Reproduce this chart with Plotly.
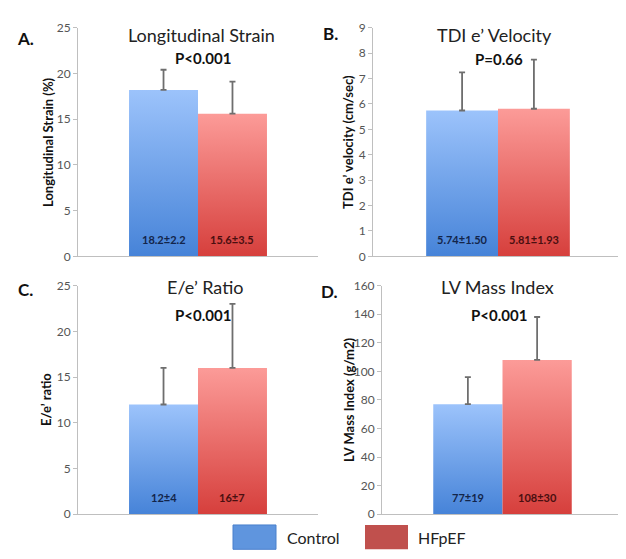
import plotly.graph_objects as go

groups = ["Control", "HFpEF"]
panel_letters = ["A.", "B.", "C.", "D."]
panel_titles = ["Longitudinal Strain", "TDI e\u2019 Velocity", "E/e\u2019 Ratio", "LV Mass Index"]
y_titles = ["Longitudinal Strain (%)", "TDI e\u2019 velocity (cm/sec)", "E/e\u2019 ratio", "LV Mass Index (g/m2)"]
p_values = ["P<0.001", "P=0.66", "P<0.001", "P<0.001"]

strain_mean = [18.2, 15.6]
strain_sd = [2.2, 3.5]
tdi_mean = [5.74, 5.81]
tdi_sd = [1.50, 1.93]
ee_mean = [12, 16]
ee_sd = [4, 7]
lvmi_mean = [77, 108]
lvmi_sd = [19, 30]
value_labels = [["18.2\u00b12.2", "15.6\u00b13.5"], ["5.74\u00b11.50", "5.81\u00b11.93"],
                ["12\u00b14", "16\u00b17"], ["77\u00b119", "108\u00b130"]]

y_max = [25, 9, 25, 160]
y_dtick = [5, 1, 5, 20]

means = [strain_mean, tdi_mean, ee_mean, lvmi_mean]
sds = [strain_sd, tdi_sd, ee_sd, lvmi_sd]

W, H = 626, 559
xdoms = [[70 / W, 310 / W], [365 / W, 615 / W], [70 / W, 310 / W], [374 / W, 615 / W]]
ydoms = [[(H - 247) / H, (H - 12) / H], [(H - 247) / H, (H - 12) / H],
         [(H - 512) / H, (H - 277) / H], [(H - 512) / H, (H - 277) / H]]

grad = [
    [[0, "#4683D8"], [1, "#9CC3FB"]],
    [[0, "#D63F3C"], [1, "#FC9B98"]],
]
label_colors = ["#13254A", "#4A0F10"]
bar_centers = [-0.5, 0.5]
bar_w = 1.0

fig = go.Figure()
layout = dict(width=W, height=H, margin=dict(l=0, r=0, t=0, b=0),
              paper_bgcolor="white", plot_bgcolor="white", showlegend=False,
              font=dict(family="Lato, Open Sans, sans-serif", color="#222"))
annotations = []
title_pos = [(193, 20, 195, 43), (486, 20, 491, 44), (197, 278, 195, 307), (490, 278, 491, 307)]
letter_pos = [(17, 23), (322, 18), (17, 281), (321, 283)]
ytitle_x = [40, 340, 38, 341]

for p in range(4):
    xa = "x" if p == 0 else f"x{p+1}"
    ya = "y" if p == 0 else f"y{p+1}"
    xk = "xaxis" if p == 0 else f"xaxis{p+1}"
    yk = "yaxis" if p == 0 else f"yaxis{p+1}"
    for g in range(2):
        c = bar_centers[g]
        v = means[p][g]
        xs = [c - bar_w / 2, c + bar_w / 2, c + bar_w / 2, c - bar_w / 2, c - bar_w / 2]
        ys = [0, 0, v, v, 0]
        fig.add_trace(go.Scatter(
            x=xs, y=ys, xaxis=xa, yaxis=ya, mode="lines", fill="toself",
            line=dict(width=0), fillgradient=dict(type="vertical", colorscale=grad[g]),
            hoverinfo="skip", name=groups[g]))
        fig.add_trace(go.Scatter(
            x=[c], y=[v], xaxis=xa, yaxis=ya, mode="markers",
            marker=dict(size=1, opacity=0),
            error_y=dict(type="data", symmetric=False, array=[sds[p][g]], arrayminus=[0],
                         color="#6E6E6E", thickness=1.8, width=3),
            name=groups[g]))
        annotations.append(dict(
            x=c, y=17 / 235, xref=xa, yref=f"{ya} domain", text=f"<b>{value_labels[p][g]}</b>",
            showarrow=False, font=dict(size=11, color=label_colors[g]),
            xanchor="center", yanchor="middle"))
    layout[xk] = dict(domain=xdoms[p], range=[-1.74, 1.74], showticklabels=False,
                      showgrid=False, zeroline=False, showline=True, linecolor="#BFBFBF",
                      linewidth=1, ticks="", anchor=ya, fixedrange=True)
    layout[yk] = dict(domain=ydoms[p], range=[0, y_max[p]], dtick=y_dtick[p],
                      showgrid=False, zeroline=False, showline=True, linecolor="#BFBFBF",
                      linewidth=1, ticks="outside", ticklen=4, tickcolor="#BFBFBF",
                      tickfont=dict(size=12, color="#555"), anchor=xa, fixedrange=True)
    tx, ty, px, py = title_pos[p]
    annotations.append(dict(x=tx / W, y=1 - ty / H, xref="paper", yref="paper",
                            text=panel_titles[p], showarrow=False,
                            font=dict(size=18, color="#222"), xanchor="center", yanchor="middle"))
    annotations.append(dict(x=px / W, y=1 - py / H, xref="paper", yref="paper",
                            text=f"<b>{p_values[p]}</b>", showarrow=False,
                            font=dict(size=15, color="#111"), xanchor="center", yanchor="middle"))
    lx, ly = letter_pos[p]
    annotations.append(dict(x=lx / W, y=1 - ly / H, xref="paper", yref="paper",
                            text=f"<b>{panel_letters[p]}</b>", showarrow=False,
                            font=dict(size=17, color="#111"), xanchor="center", yanchor="middle"))
    ymid = (ydoms[p][0] + ydoms[p][1]) / 2
    annotations.append(dict(x=ytitle_x[p] / W, y=ymid, xref="paper", yref="paper",
                            text=f"<b>{y_titles[p]}</b>", showarrow=False, textangle=-90,
                            font=dict(size=13, color="#111"), xanchor="center", yanchor="middle"))

# legend
shapes = [
    dict(type="rect", xref="paper", yref="paper", x0=225 / W, x1=268 / W,
         y0=1 - 548 / H, y1=1 - 523 / H, fillcolor="#5F95DE", line=dict(color="#4A80CC", width=1)),
    dict(type="rect", xref="paper", yref="paper", x0=357 / W, x1=400 / W,
         y0=1 - 548 / H, y1=1 - 523 / H, fillcolor="#C0504D", line=dict(width=0)),
]
annotations.append(dict(x=277 / W, y=1 - 536 / H, xref="paper", yref="paper", text=groups[0],
                        showarrow=False, xanchor="left", yanchor="middle",
                        font=dict(size=16, color="#222")))
annotations.append(dict(x=408 / W, y=1 - 536 / H, xref="paper", yref="paper", text=groups[1],
                        showarrow=False, xanchor="left", yanchor="middle",
                        font=dict(size=16, color="#222")))

layout["annotations"] = annotations
layout["shapes"] = shapes
fig.update_layout(**layout)
fig.write_html("out.html")
